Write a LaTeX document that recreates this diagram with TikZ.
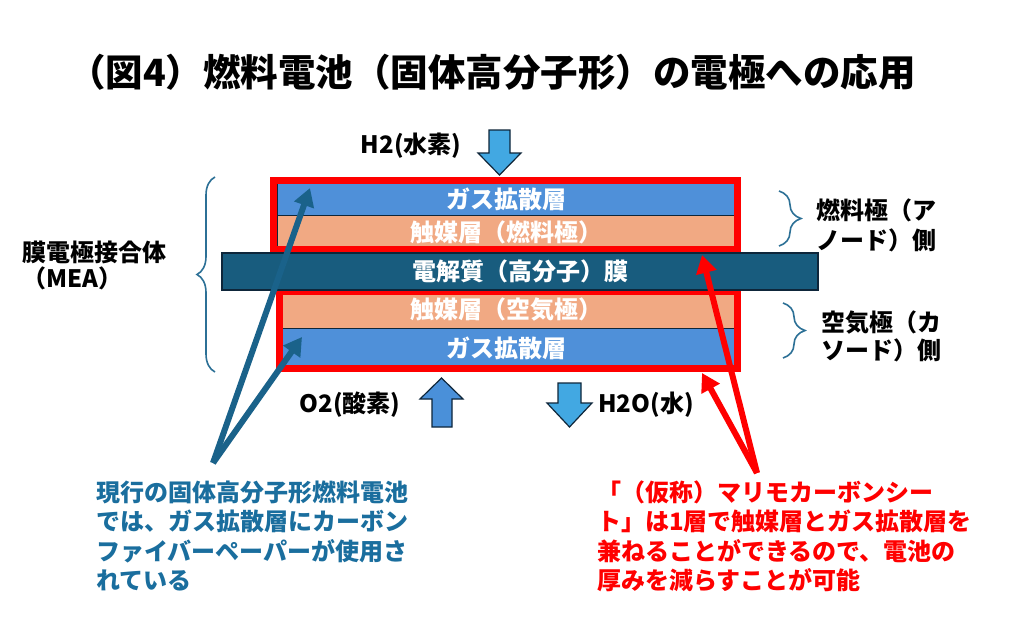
\documentclass[tikz,border=0pt]{standalone}
\usepackage{fontspec}
\setmainfont{Noto Sans CJK JP}
\usetikzlibrary{arrows.meta,decorations.pathreplacing}
\definecolor{gasblue}{RGB}{79,144,217}
\definecolor{salmon}{RGB}{241,169,131}
\definecolor{memb}{RGB}{24,92,126}
\definecolor{navy}{RGB}{14,38,58}
\definecolor{lblue}{RGB}{66,168,226}
\definecolor{mblue}{RGB}{74,144,217}
\definecolor{calblue}{RGB}{26,98,138}
\definecolor{txtblue}{RGB}{26,110,158}
\definecolor{bracec}{RGB}{44,112,150}
\definecolor{pred}{RGB}{255,0,0}
\tikzset{
  lab/.style={font=\fontsize{24}{29.5}\selectfont\bfseries, inner sep=0pt},
  layertxt/.style={lab, text=white},
  layerbox/.style={draw=navy, line width=1pt},
  redbox/.style={draw=pred, line width=7pt},
  blockarr/.style={draw=navy, line width=1.2pt, line join=miter},
  bracestyle/.style={draw=bracec, line width=1.6pt, decorate},
  calloutb/.style={draw=calblue, line width=6pt, -{Triangle[length=18pt,width=20pt]}},
  calloutr/.style={draw=pred, line width=6pt, -{Triangle[length=18pt,width=20pt]}},
}
\begin{document}
\begin{tikzpicture}[x=1pt,y=-1pt]
\useasboundingbox (0,0) rectangle (1025,642);
\fill[white] (0,0) rectangle (1025,642);

% title
\node[font=\fontsize{37.5}{40}\selectfont\bfseries, inner sep=0pt] (title) at (492,72) {（図4）燃料電池（固体高分子形）の電極への応用};

% layers
\draw[layerbox, fill=gasblue] (277,183) rectangle (735,215);
\draw[layerbox, fill=salmon] (277,215) rectangle (735,250);
\draw[layerbox, fill=salmon] (280,290) rectangle (735,328);
\draw[layerbox, fill=gasblue] (280,328) rectangle (735,368);
% red frames
\draw[redbox] (273.5,180.5) rectangle (737.5,249.5);
\draw[redbox] (279.5,291.5) rectangle (737.5,368.5);
% membrane
\draw[draw=navy, line width=1.5pt, fill=memb] (222,253) rectangle (818,290);

% layer texts
\node[layertxt] (gdl1) at (506,199) {ガス拡散層};
\node[layertxt] (cat1) at (506,232) {触媒層（燃料極）};
\node[layertxt] (mem) at (520,271.5) {電解質（高分子）膜};
\node[layertxt] (cat2) at (506,309.5) {触媒層（空気極）};
\node[layertxt] (gdl2) at (506,348) {ガス拡散層};

% braces
\draw[bracestyle, decoration={brace, amplitude=18pt}] (215,372) -- (215,177);
\draw[bracestyle, decoration={brace, amplitude=22pt}] (779,191) -- (779,246);
\draw[bracestyle, decoration={brace, amplitude=22pt}] (783,303) -- (783,358);

% side labels
\node[lab, anchor=west, align=left, font=\fontsize{24}{26}\selectfont\bfseries] (mea) at (22,265) {膜電極接合体\\（MEA）};
\node[lab, anchor=west, align=left, font=\fontsize{24}{30}\selectfont\bfseries] (anode) at (816,225) {燃料極（ア\\ノード）側};
\node[lab, anchor=west, align=left, font=\fontsize{24}{28}\selectfont\bfseries] (cathode) at (821,336) {空気極（カ\\ソード）側};

% block arrows
\draw[blockarr, fill=lblue] (489,130) -- (510,130) -- (510,153) -- (521,153) -- (499.5,175) -- (478,153) -- (489,153) -- cycle;
\draw[blockarr, fill=mblue] (432,427) -- (452,427) -- (452,399) -- (463,399) -- (441.5,378) -- (420,399) -- (432,399) -- cycle;
\draw[blockarr, fill=lblue] (558,383) -- (581,383) -- (581,403) -- (592,403) -- (569.5,427) -- (547,403) -- (558,403) -- cycle;

% gas labels
\node[lab] (h2) at (411,146) {H2(水素)};
\node[lab] (o2) at (350,405) {O2(酸素)};
\node[lab] (h2o) at (646,405) {H2O(水)};

% callout arrows
\coordinate (bt) at (213,463);
\coordinate (bt1) at (310,188);
\coordinate (bt2) at (302,337);
\draw[calloutb] (bt) -- (bt1);
\draw[calloutb] (bt) -- (bt2);
\coordinate (rt) at (757,473);
\coordinate (rt1) at (702,255);
\coordinate (rt2) at (702,373);
\draw[calloutr] (rt) -- (rt1);
\draw[calloutr] (rt) -- (rt2);

% callout texts
\node[lab, text=txtblue, anchor=base west, align=left] (btext) at (96,589.5) {現行の固体高分子形燃料電池\\では、ガス拡散層にカーボン\\ファイバーペーパーが使用さ\\れている};
\node[lab, text=pred, anchor=base west, align=left] (rtext) at (597,589.5) {「（仮称）マリモカーボンシー\\ト」は1層で触媒層とガス拡散層を\\兼ねることができるので、電池の\\厚みを減らすことが可能};
\end{tikzpicture}
\end{document}
